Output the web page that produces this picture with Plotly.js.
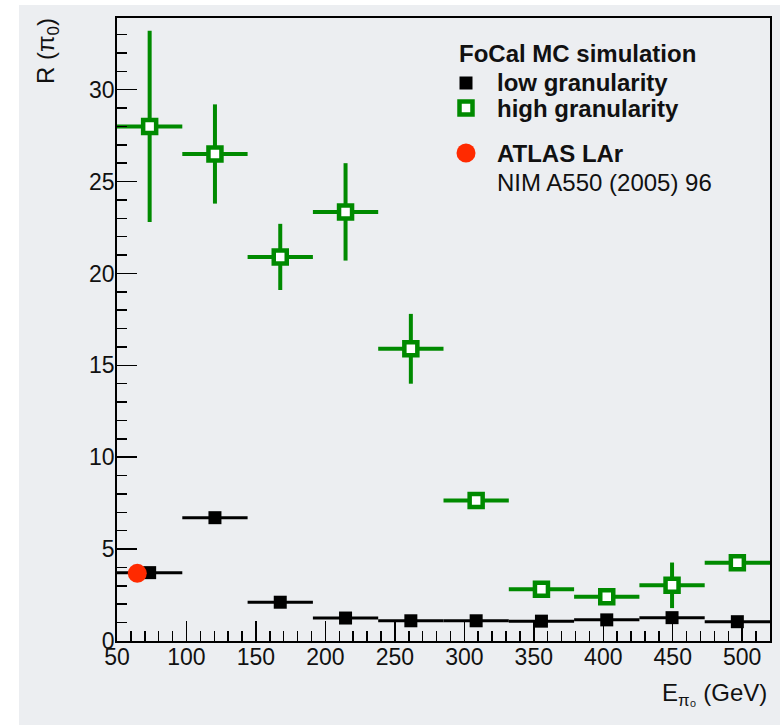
<!DOCTYPE html>
<html>
<head>
<meta charset="utf-8">
<script src="https://cdn.plot.ly/plotly-3.0.1.min.js"></script>
<style>html,body{margin:0;padding:0;background:#fff;}#chart{width:780px;height:725px;}</style>
</head>
<body>
<div id="chart"></div>
<script>
// ---- data ----
const energy = [73.5, 120.5, 167.5, 214.5, 261.5, 308.5, 355.5, 402.5, 449.5, 496.5];
const binHalfWidth = [23.5, 23.5, 23.5, 23.5, 23.5, 23.5, 23.5, 23.5, 23.5, 23.5];
const lowGran = [3.72, 6.71, 2.11, 1.25, 1.1, 1.1, 1.08, 1.15, 1.27, 1.05];
const highGran = [28.0, 26.5, 20.9, 23.35, 15.9, 7.64, 2.81, 2.41, 3.03, 4.26];
const highGranErr = [5.2, 2.7, 1.8, 2.65, 1.9, 0.3, 0.3, 0.3, 1.24, 0.3];
const atlasE = [64.6];
const atlasR = [3.68];
const xTickVals = [50, 100, 150, 200, 250, 300, 350, 400, 450, 500];
const yTickVals = [0, 5, 10, 15, 20, 25, 30];

const green = '#008a00';
const FONT = 'Liberation Sans, Arial, Helvetica, sans-serif';

// geometry helpers (pixel -> paper)
const L = 117, R = 10, T = 18, B = 84, W = 780, H = 725;
const PW = W - L - R, PH = H - T - B;
const px = x => (x - L) / PW;
const py = y => (H - B - y) / PH;

const traces = [
  {
    x: energy, y: lowGran, type: 'scatter', mode: 'markers',
    marker: {symbol: 'square', size: 13, color: '#000'},
    error_x: {type: 'data', array: binHalfWidth, visible: true, width: 0, thickness: 3, color: '#000'},
    hoverinfo: 'x+y', showlegend: false
  },
  {
    x: energy, y: highGran, type: 'scatter', mode: 'markers',
    marker: {symbol: 'square', size: 13, color: '#ffffff', line: {color: green, width: 4.5}},
    error_x: {type: 'data', array: binHalfWidth, visible: true, width: 0, thickness: 4, color: green},
    error_y: {type: 'data', array: highGranErr, visible: true, width: 0, thickness: 4, color: green},
    hoverinfo: 'x+y', showlegend: false
  },
  {
    x: atlasE, y: atlasR, type: 'scatter', mode: 'markers',
    marker: {symbol: 'circle', size: 19, color: '#ff2a00'},
    hoverinfo: 'x+y', showlegend: false
  }
];

function legSym(xc, yc, half, type, fill, lineColor, lineW) {
  return {
    type: type, xref: 'paper', yref: 'paper', xsizemode: 'pixel', ysizemode: 'pixel',
    xanchor: px(xc), yanchor: py(yc), x0: -half, x1: half, y0: -half, y1: half,
    fillcolor: fill, line: {color: lineColor, width: lineW}, layer: 'above'
  };
}

const shapes = [
  {type: 'rect', xref: 'paper', yref: 'paper', x0: px(19), x1: px(780), y0: py(725), y1: py(5),
   fillcolor: '#eceef1', line: {width: 0}, layer: 'below'},
  legSym(466, 83, 6.5, 'rect', '#000', '#000', 0),
  legSym(466, 108, 6.5, 'rect', '#ffffff', green, 4.5),
  legSym(466, 153, 9.5, 'circle', '#ff2a00', '#ff2a00', 0)
];

function ann(text, x, y, size, opts) {
  return Object.assign({
    text: text, xref: 'paper', yref: 'paper', x: px(x), y: py(y),
    xanchor: 'left', yanchor: 'middle', showarrow: false,
    font: {family: FONT, size: size, color: '#111'}
  }, opts || {});
}

const annotations = [
  ann('<b>FoCal MC simulation</b>', 457, 53, 24),
  ann('<b>low granularity</b>', 495, 82, 24),
  ann('<b>high granularity</b>', 495, 108, 24),
  ann('<b>ATLAS LAr</b>', 495, 153, 24),
  ann('NIM A550 (2005) 96', 495, 182, 24),
  ann('R (π<sub>0</sub>)', 47, 51, 24, {xanchor: 'center', textangle: -90}),
  ann('E<sub>π₀</sub> (GeV)', 769, 694, 24, {xanchor: 'right'})
];

const layout = {
  width: W, height: H,
  margin: {l: L, r: R, t: T, b: B, pad: 0},
  paper_bgcolor: '#ffffff',
  plot_bgcolor: 'rgba(0,0,0,0)',
  showlegend: false,
  font: {family: FONT, size: 22, color: '#111'},
  xaxis: {
    range: [50, 520], tickmode: 'array', tickvals: xTickVals, ticktext: xTickVals.map(String),
    ticks: 'inside', ticklen: 20, tickwidth: 1.5, tickcolor: '#000', ticklabelstandoff: -5,
    minor: {ticks: 'inside', ticklen: 10, dtick: 10, tick0: 50, tickwidth: 1.5, tickcolor: '#000', showgrid: false},
    showline: true, linecolor: '#000', linewidth: 1.8, mirror: true,
    showgrid: false, zeroline: false, tickfont: {family: FONT, size: 23, color: '#111'}
  },
  yaxis: {
    range: [0, 33.9], tickmode: 'array', tickvals: yTickVals, ticktext: yTickVals.map(String),
    ticks: 'inside', ticklen: 20, tickwidth: 1.5, tickcolor: '#000', ticklabelstandoff: -4,
    minor: {ticks: 'inside', ticklen: 10, dtick: 1, tick0: 0, tickwidth: 1.5, tickcolor: '#000', showgrid: false},
    showline: true, linecolor: '#000', linewidth: 1.8, mirror: true,
    showgrid: false, zeroline: false, tickfont: {family: FONT, size: 23, color: '#111'}
  },
  shapes: shapes,
  annotations: annotations
};

Plotly.newPlot('chart', traces, layout, {displayModeBar: false, staticPlot: true});
</script>
</body>
</html>
